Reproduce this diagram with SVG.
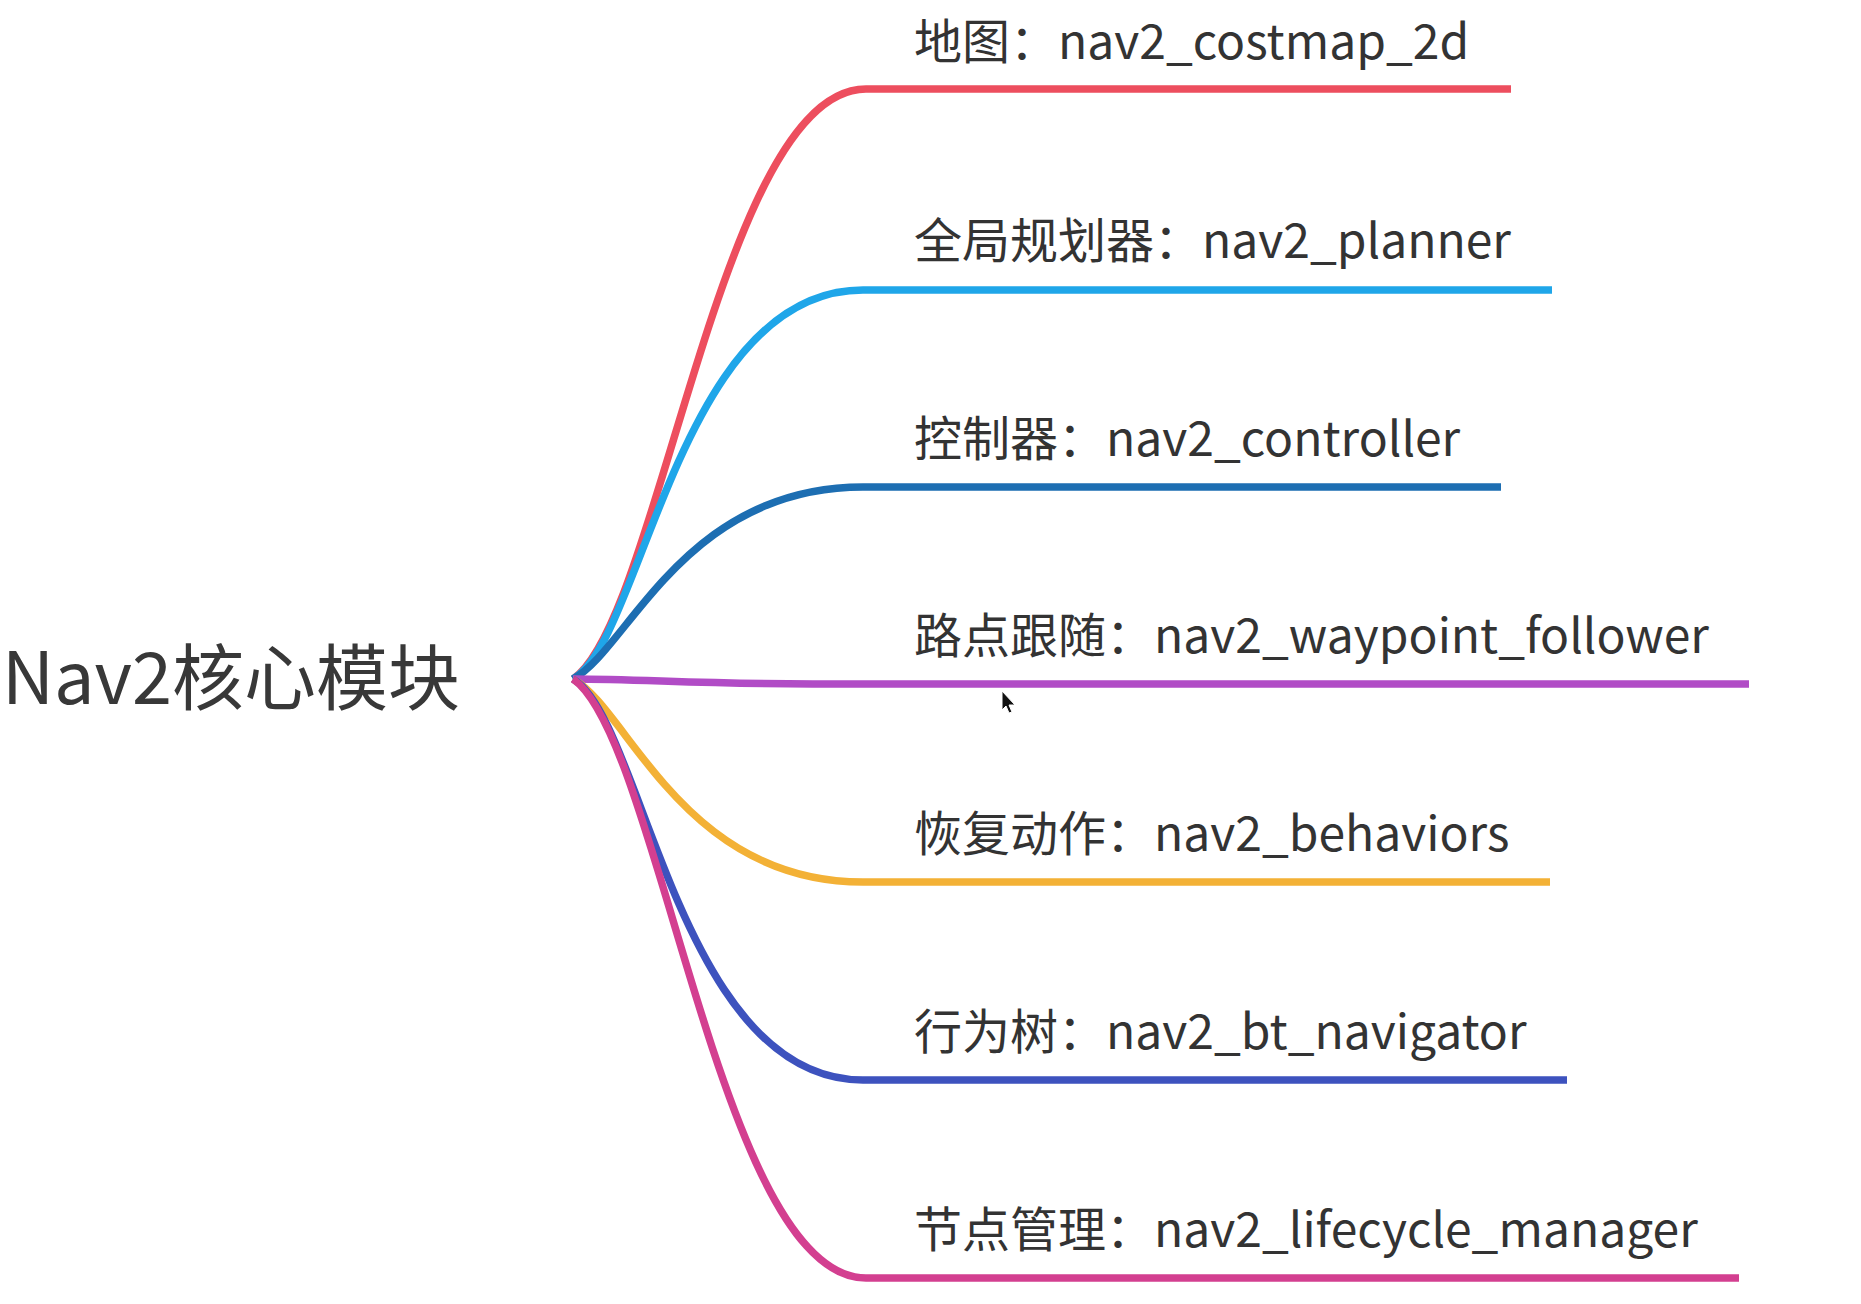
<svg xmlns="http://www.w3.org/2000/svg" width="1861" height="1304" viewBox="0 0 1861 1304">
<style>
.bg{fill:#ffffff}
.root{font-family:"Noto Sans CJK SC","Noto Sans",sans-serif;font-size:72px;fill:#383838}
.lbl{font-family:"Noto Sans CJK SC","Noto Sans",sans-serif;font-size:48px;fill:#333333}
.ln{fill:none;stroke-width:7.5;stroke-linecap:butt;stroke-linejoin:round}
</style>
<rect class="bg" x="0" y="0" width="1861" height="1304"/>
<g id="connectors">
<path class="ln" stroke="#ED4E5E" d="M573 679 C660 620 720 89 866 89 L1511 89"/>
<path class="ln" stroke="#1FA6E9" d="M573 679 C643 640 678 290 863 290 L1552 290"/>
<path class="ln" stroke="#1D6EB2" d="M573 679 C628 650 683 487 863 487 L1501 487"/>
<path class="ln" stroke="#B14CC6" d="M573 679 C640 679 700 684 813 684 L1749 684"/>
<path class="ln" stroke="#F3B136" d="M573 679 C628 709 683 882 863 882 L1550 882"/>
<path class="ln" stroke="#3D52BE" d="M573 679 C643 719 678 1080 863 1080 L1567 1080"/>
<path class="ln" stroke="#D33F90" d="M573 679 C660 739 720 1278 866 1278 L1739 1278"/>
</g>
<g id="root"><text class="root" x="2" y="704">Nav2核心模块</text></g>
<g id="n1"><text class="lbl" x="914" y="59">地图：nav2_costmap_2d</text></g>
<g id="n2"><text class="lbl" x="914" y="258">全局规划器：nav2_planner</text></g>
<g id="n3"><text class="lbl" x="914" y="456">控制器：nav2_controller</text></g>
<g id="n4"><text class="lbl" x="914" y="653">路点跟随：nav2_waypoint_follower</text></g>
<g id="n5"><text class="lbl" x="914" y="851">恢复动作：nav2_behaviors</text></g>
<g id="n6"><text class="lbl" x="914" y="1049">行为树：nav2_bt_navigator</text></g>
<g id="n7"><text class="lbl" x="914" y="1247">节点管理：nav2_lifecycle_manager</text></g>
<path d="M1002 691 L1002 710 L1006 706 L1009 713 L1012 712 L1009 705 L1015 705 Z" fill="#111111" stroke="#ffffff" stroke-width="1"/>
</svg>
